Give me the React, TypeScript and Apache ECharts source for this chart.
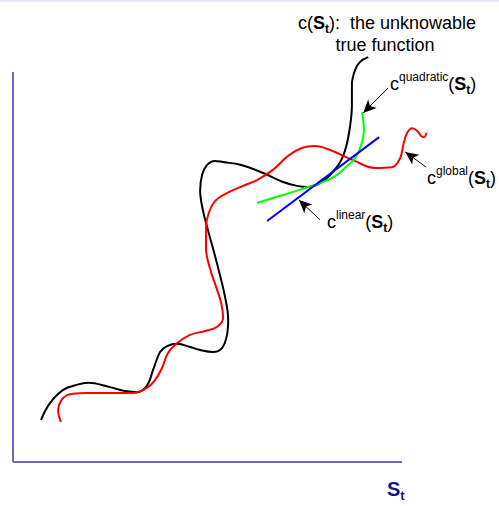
import React, { useEffect, useRef } from "react";
import * as echarts from "echarts";

// Abstract state axis S_t (x) and cost c (y), both drawn on a 0–100 scale.
const trueFunction: [number, number][] = [
  [7.2, 10.8], [9.5, 15.1], [12.9, 18.5], [16.1, 19.7], [19.3, 20.3], [24.9, 19.2],
  [28.8, 18.2], [31.9, 17.9], [34.4, 19.5], [36.0, 23.6], [37.8, 28.2], [39.6, 29.7],
  [42.2, 30.3], [45.5, 29.5], [48.1, 28.7], [51.4, 28.2], [53.7, 29.2], [55.0, 32.6],
  [55.3, 36.4], [54.5, 42.3], [52.4, 51.0], [50.1, 59.5], [48.8, 64.6], [48.1, 69.7],
  [48.6, 73.6], [49.9, 76.2], [51.9, 77.2], [54.0, 76.9], [58.4, 76.2], [64.3, 74.1],
  [69.4, 71.8], [73.0, 70.8], [75.8, 70.5], [78.9, 71.5], [81.5, 73.6], [84.1, 76.9],
  [85.6, 80.8], [86.6, 85.9], [87.1, 91.5], [87.1, 96.7], [87.9, 100.5], [89.2, 102.6],
  [91.3, 103.8],
];

const globalFit: [number, number][] = [
  [12.3, 10.3], [11.6, 13.3], [12.3, 15.6], [14.1, 17.2], [18.5, 17.7], [24.9, 17.7],
  [30.8, 17.7], [34.4, 19.0], [36.5, 21.0], [38.3, 24.1], [39.8, 27.9], [42.2, 30.5],
  [45.5, 32.6], [49.4, 33.6], [52.4, 34.6], [54.0, 36.9], [53.5, 40.8], [52.2, 44.9],
  [50.6, 49.7], [49.6, 54.9], [49.6, 60.0], [50.4, 64.1], [51.9, 66.9], [54.5, 68.7],
  [58.4, 70.5], [62.7, 72.3], [66.8, 74.9], [70.7, 78.5], [74.2, 80.5], [77.5, 81.0],
  [81.5, 80.0], [87.4, 77.4], [93.1, 75.4], [97.4, 75.6], [99.5, 77.9], [100.3, 81.3],
  [101.3, 84.4], [102.6, 85.6], [103.9, 84.9], [104.9, 83.6], [105.7, 83.3], [106.2, 84.4],
];

const quadraticFit: [number, number][] = [
  [62.7, 66.4], [66.8, 67.7], [71.2, 69.0], [75.8, 70.5], [78.9, 71.5], [82.8, 73.3],
  [85.3, 75.4], [87.9, 77.9], [89.5, 81.3], [90.2, 85.1], [90.0, 87.7], [89.7, 89.7],
];

const linearFit: [number, number][] = [
  [65.3, 61.8], [94.1, 83.3],
];

// Annotation arrows: [tail, head]
const arrowTails: [number, number][] = [[96.4, 95.9], [106.2, 75.6], [78.9, 62.1]];
const arrowHeads: [number, number][] = [[90.0, 89.5], [100.8, 79.5], [73.5, 67.2]];

// The L-shaped frame stops at 100 on both axes; the scales run a little further
const AXIS_END = 100;
const SCALE_MAX = 110;

const FONT = "'Liberation Sans', Arial, Helvetica, sans-serif";

const rich = {
  m: { fontSize: 18, fontFamily: FONT, lineHeight: 20, verticalAlign: "top", padding: [6, 0, 0, 0], fill: "#000" },
  b: { fontSize: 18, fontFamily: FONT, fontWeight: "bold", lineHeight: 20, verticalAlign: "top", padding: [6, 0, 0, 0], fill: "#000" },
  sup: { fontSize: 12, fontFamily: FONT, lineHeight: 14, verticalAlign: "top", padding: [2, 0, 0, 0], fill: "#000" },
  sub: { fontSize: 12, fontFamily: FONT, fontWeight: "bold", lineHeight: 14, verticalAlign: "top", padding: [15, 0, 0, 0], fill: "#000" },
};

const axisRich = {
  s: { fontSize: 20, fontFamily: FONT, fontWeight: "bold", lineHeight: 22, verticalAlign: "top", fill: "#14148c" },
  t: { fontSize: 13, fontFamily: FONT, fontWeight: "bold", lineHeight: 14, verticalAlign: "top", padding: [10, 0, 0, 0], fill: "#14148c" },
};

const curve = (name: string, data: [number, number][], color: string) => ({
  name,
  type: "line",
  data,
  smooth: 0.4,
  showSymbol: false,
  symbol: "none",
  clip: false,
  silent: true,
  lineStyle: { color, width: 2 },
});

export default function App() {
  const ref = useRef<HTMLDivElement>(null);

  useEffect(() => {
    const chart = echarts.init(ref.current!, undefined, { renderer: "svg" });
    const hiddenAxis = {
      type: "value", min: 0, max: SCALE_MAX,
      axisLine: { show: false }, axisTick: { show: false }, axisLabel: { show: false }, splitLine: { show: false },
    };
    chart.setOption({
      animation: false,
      backgroundColor: "#ffffff",
      grid: { left: 13, right: 58, top: 33, bottom: 44 },
      xAxis: hiddenAxis,
      yAxis: hiddenAxis,
      series: [
        {
          ...curve("true", trueFunction, "#000000"),
          markLine: {
            silent: true,
            animation: false,
            symbol: ["none", "none"],
            lineStyle: { color: "#6a6ab6", width: 2, type: "solid" },
            label: { show: false },
            emphasis: { disabled: true },
            data: [
              [{ coord: [0, 0] }, { coord: [AXIS_END, 0] }],
              [{ coord: [0, 0] }, { coord: [0, AXIS_END] }],
            ],
          },
        },
        curve("global", globalFit, "#ff0000"),
        curve("quadratic", quadraticFit, "#00ff00"),
        {
          ...curve("linear", linearFit, "#0000ff"),
          smooth: false,
          markLine: {
            silent: true,
            animation: false,
            symbol: ["none", "arrow"],
            symbolSize: [9, 13],
            lineStyle: { color: "#000000", width: 1, type: "solid" },
            label: { show: false },
            emphasis: { disabled: true },
            data: arrowTails.map((t, i) => [{ coord: t }, { coord: arrowHeads[i] }]),
          },
        },
      ],
      graphic: [
        { type: "rect", left: 0, top: 0, shape: { width: 499, height: 2 }, style: { fill: "#e9e9f5" } },
        {
          type: "text", x: 387, y: 8,
          style: { text: "{m|c(}{b|S}{sub|t}{m|):  the unknowable}", rich, align: "center", verticalAlign: "top" },
        },
        {
          type: "text", x: 385, y: 45,
          style: { text: "true function", fontSize: 18, fontFamily: FONT, fill: "#000", align: "center", verticalAlign: "middle" },
        },
        {
          type: "text", x: 390, y: 69,
          style: { text: "{m|c}{sup|quadratic}{m|(}{b|S}{sub|t}{m|)}", rich, align: "left", verticalAlign: "top" },
        },
        {
          type: "text", x: 427, y: 163,
          style: { text: "{m|c}{sup|global}{m|(}{b|S}{sub|t}{m|)}", rich, align: "left", verticalAlign: "top" },
        },
        {
          type: "text", x: 327, y: 207,
          style: { text: "{m|c}{sup|linear}{m|(}{b|S}{sub|t}{m|)}", rich, align: "left", verticalAlign: "top" },
        },
        {
          type: "text", x: 387, y: 479,
          style: { text: "{s|S}{t|t}", rich: axisRich, align: "left", verticalAlign: "top" },
        },
      ],
    });
    return () => chart.dispose();
  }, []);

  return <div ref={ref} style={{ position: "fixed", left: 0, top: 0, width: 499, height: 506 }} />;
}
